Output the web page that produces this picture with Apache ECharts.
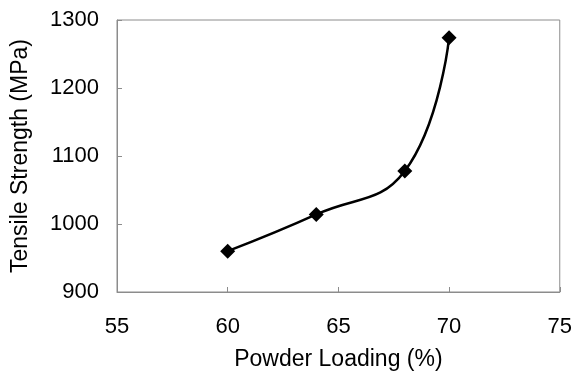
<!DOCTYPE html>
<html>
<head>
<meta charset="utf-8">
<script src="https://cdn.jsdelivr.net/npm/echarts@6/dist/echarts.min.js"></script>
<style>
html,body{margin:0;padding:0;background:#fff;}
#chart{width:575px;height:381px;}
</style>
</head>
<body>
<div id="chart"></div>
<script>
const powderLoading = [60, 64, 68, 70];
const tensileStrength = [960, 1014, 1078, 1274];
const xTicks = [55, 60, 65, 70, 75];
const yTicks = [900, 1000, 1100, 1200, 1300];
const xTitle = 'Powder Loading (%)';
const yTitle = 'Tensile Strength (MPa)';

const chart = echarts.init(document.getElementById('chart'), null, {renderer: 'canvas'});
const font = 'Liberation Sans, Arial, sans-serif';
chart.setOption({
  animation: false,
  backgroundColor: '#fff',
  grid: {left: 117, right: 14, top: 20, bottom: 89, show: true, borderColor: '#8c8c8c', borderWidth: 1, backgroundColor: 'transparent'},
  xAxis: {
    type: 'value', min: xTicks[0], max: xTicks[xTicks.length - 1], interval: 5,
    name: xTitle, nameLocation: 'middle', nameGap: 56,
    nameTextStyle: {fontFamily: font, fontSize: 23, color: '#000'},
    axisLine: {lineStyle: {color: '#8c8c8c', width: 1}},
    axisTick: {inside: true, length: 5, lineStyle: {color: '#8c8c8c'}},
    axisLabel: {fontFamily: font, fontSize: 22, color: '#000', margin: 24, formatter: v => String(v)},
    splitLine: {show: false}
  },
  yAxis: {
    type: 'value', min: yTicks[0], max: yTicks[yTicks.length - 1], interval: 100,
    name: yTitle, nameLocation: 'middle', nameGap: 85,
    nameTextStyle: {fontFamily: font, fontSize: 23, color: '#000'},
    axisLine: {show: true, lineStyle: {color: '#8c8c8c', width: 1}},
    axisTick: {show: true, inside: true, length: 5, lineStyle: {color: '#8c8c8c'}},
    axisLabel: {fontFamily: font, fontSize: 22, color: '#000', margin: 18, formatter: v => String(v)},
    splitLine: {show: false}
  },
  series: [{
    type: 'line',
    data: powderLoading.map((x, i) => [x, tensileStrength[i]]),
    smooth: 0.45,
    symbol: 'diamond',
    symbolSize: 15,
    itemStyle: {color: '#000'},
    lineStyle: {color: '#000', width: 2.5}
  }]
});
</script>
</body>
</html>
